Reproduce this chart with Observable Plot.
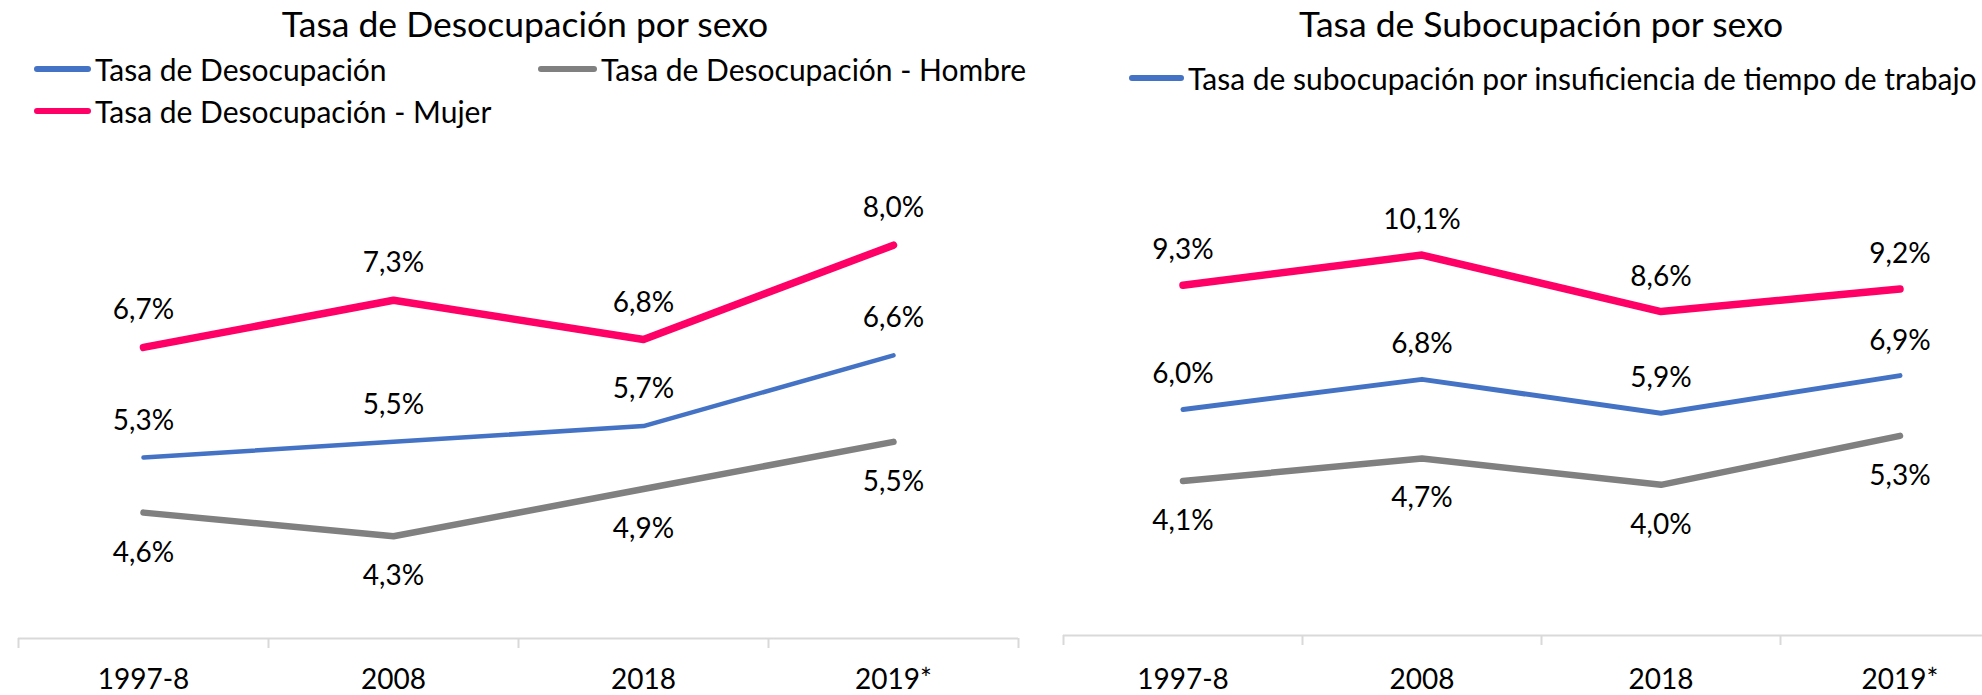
<!DOCTYPE html>
<html><head><meta charset="utf-8">
<script src="https://cdn.jsdelivr.net/npm/d3@7"></script>
<script src="https://cdn.jsdelivr.net/npm/@observablehq/plot@0.6"></script>
<style>
html,body{margin:0;padding:0;background:#fff;}
body{width:1982px;height:695px;overflow:hidden;font-family:Lato,"Open Sans",sans-serif;color:#000;}
#root{position:relative;width:1982px;height:695px;overflow:hidden;}
.abs{position:absolute;white-space:nowrap;line-height:1;}
.title{font-size:35.5px;transform:translateX(-50%);}
.leg{font-size:30px;display:flex;align-items:center;}
.sw{display:inline-block;height:6px;border-radius:3px;margin-right:4px;}
#left,#right{position:absolute;top:0;height:695px;}
#left{left:0;width:1040px;}
#right{left:1040px;width:980px;}
svg{max-width:none !important;}
</style></head><body>
<div id="root">
  <div id="left"></div>
  <div id="right"></div>
</div>
<script>
const categories = ["1997-8", "2008", "2018", "2019*"];
const desocTotal  = [5.3, 5.5, 5.7, 6.6];
const desocHombre = [4.6, 4.3, 4.9, 5.5];
const desocMujer  = [6.7, 7.3, 6.8, 8.0];
const subocTotal  = [6.0, 6.8, 5.9, 6.9];
const subocHombre = [4.1, 4.7, 4.0, 5.3];
const subocMujer  = [9.3, 10.1, 8.6, 9.2];

const titleLeft = "Tasa de Desocupación por sexo";
const titleRight = "Tasa de Subocupación por sexo";
const legendLeft = ["Tasa de Desocupación", "Tasa de Desocupación - Hombre", "Tasa de Desocupación - Mujer"];
const legendRight = ["Tasa de subocupación por insuficiencia de tiempo de trabajo"];

const BLUE = "#4472C4", GRAY = "#808080", PINK = "#FF0066", AXIS = "#D9D9D9";
const fmt = v => v.toFixed(1).replace(".", ",") + "%";
const rows = vals => categories.map((c, i) => ({cat: c, value: vals[i]}));

function chart({width, marginLeft, marginRight, marginTop, marginBottom, domain, series, tickLabelDy, tickLen}) {
  const plotW = width - marginLeft - marginRight;
  const bw = plotW / categories.length;
  const yMin = domain[0];
  const marks = [
    Plot.ruleY([yMin], {stroke: AXIS, strokeWidth: 2}),
    Plot.ruleX(categories, {x: d => d, y1: yMin, y2: yMin, insetBottom: -tickLen, dx: -bw / 2, stroke: AXIS, strokeWidth: 2}),
    Plot.ruleX([categories[categories.length - 1]], {x: d => d, y1: yMin, y2: yMin, insetBottom: -tickLen, dx: bw / 2, stroke: AXIS, strokeWidth: 2}),
    Plot.text(categories, {x: d => d, y: () => yMin, text: d => d, dy: tickLabelDy, lineAnchor: "middle", fontSize: 28, fill: "#000"})
  ];
  for (const s of series) {
    const data = rows(s.values);
    marks.push(Plot.line(data, {x: "cat", y: "value", stroke: s.color, strokeWidth: s.width, strokeLinecap: "round", strokeLinejoin: "round"}));
  }
  for (const s of series) {
    const data = rows(s.values);
    marks.push(Plot.text(data, {x: "cat", y: "value", text: d => fmt(d.value), dy: s.dy, lineAnchor: "middle", fontSize: 28, fill: "#000"}));
  }
  return Plot.plot({
    width, height: 695, marginLeft, marginRight, marginTop, marginBottom,
    x: {type: "band", domain: categories, padding: 0, axis: null},
    y: {domain, axis: null},
    style: {fontFamily: "Lato, sans-serif", background: "transparent", overflow: "visible", maxWidth: "none"},
    marks
  });
}

document.getElementById("left").appendChild(chart({
  width: 1040, marginLeft: 18, marginRight: 22, marginTop: 166, marginBottom: 57,
  domain: [3, 9], tickLabelDy: 42, tickLen: 10,
  series: [
    {values: desocTotal, color: BLUE, width: 4.5, dy: -37},
    {values: desocHombre, color: GRAY, width: 6.5, dy: 40},
    {values: desocMujer, color: PINK, width: 7.5, dy: -37}
  ]
}));

document.getElementById("right").appendChild(chart({
  width: 980, marginLeft: 23, marginRight: 1, marginTop: 183, marginBottom: 60,
  domain: [0, 12], tickLabelDy: 45, tickLen: 10,
  series: [
    {values: subocTotal, color: BLUE, width: 5, dy: -35},
    {values: subocHombre, color: GRAY, width: 6.5, dy: 40},
    {values: subocMujer, color: PINK, width: 7.5, dy: -35}
  ]
}));

const root = document.getElementById("root");
function addDiv(cls, html, left, top) {
  const d = document.createElement("div");
  d.className = "abs " + cls;
  d.style.left = left + "px";
  d.style.top = top + "px";
  d.innerHTML = html;
  root.appendChild(d);
  return d;
}
addDiv("title", titleLeft, 525, 6);
addDiv("title", titleRight, 1541, 6);
const sw = (c, w) => `<span class="sw" style="background:${c};width:${w}px"></span>`;
addDiv("leg", sw(BLUE, 57) + `<span>${legendLeft[0]}</span>`, 34, 54);
addDiv("leg", sw(GRAY, 59) + `<span>${legendLeft[1]}</span>`, 538, 54);
addDiv("leg", sw(PINK, 57) + `<span>${legendLeft[2]}</span>`, 34, 96);
addDiv("leg", sw(BLUE, 55) + `<span>${legendRight[0]}</span>`, 1129, 63);
</script>
</body></html>
